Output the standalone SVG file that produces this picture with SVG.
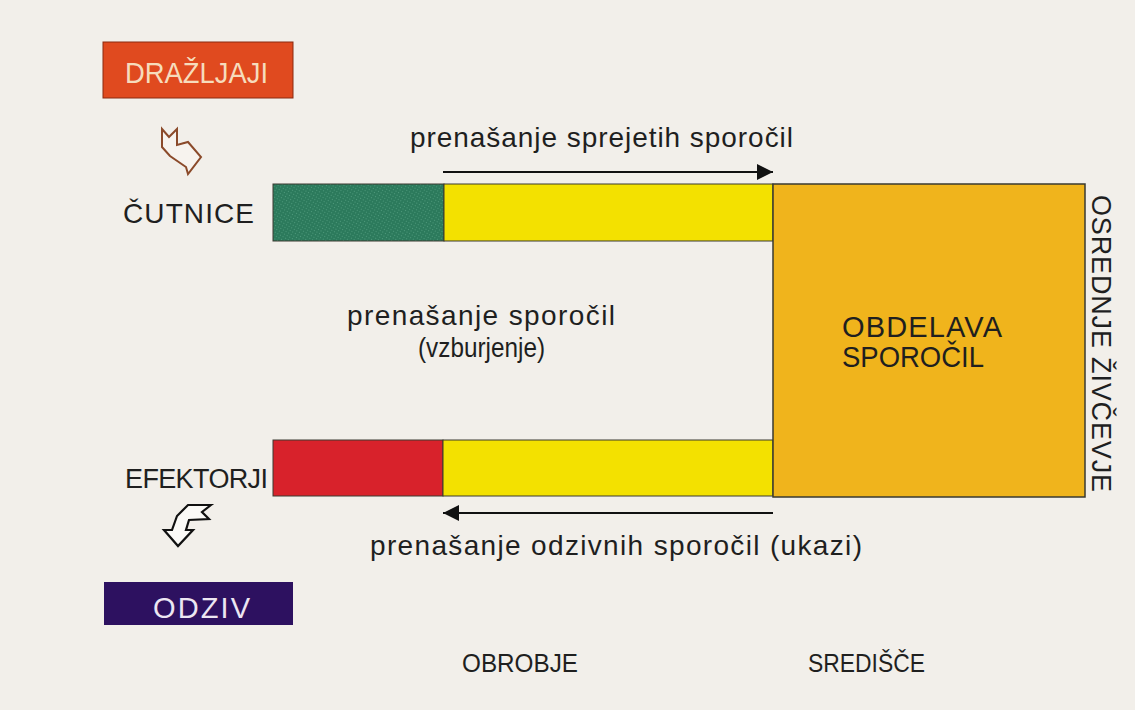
<svg xmlns="http://www.w3.org/2000/svg" width="1135" height="710" viewBox="0 0 1135 710">
<defs>
<style>
.t{font-family:"Liberation Sans",Arial,sans-serif;fill:#1f1f1f}
.cap{font-size:28px}
.bar{stroke:#3a3a30;stroke-width:1}
.conn{stroke:#111;stroke-width:2;fill:none}
</style>
<marker id="ah" viewBox="0 0 10 10" refX="10" refY="5" markerWidth="10" markerHeight="8" markerUnits="strokeWidth" orient="auto">
<path d="M0,0 L10,5 L0,10 Z" fill="#111"/>
</marker>
<pattern id="dots" width="3" height="3" patternUnits="userSpaceOnUse" patternTransform="rotate(30)">
<rect width="3" height="3" fill="#2c7a5c"/>
<rect width="1" height="1" fill="#4f9a7c"/>
</pattern>
</defs>
<rect width="1135" height="710" fill="#f2efea"/>

<g id="drazljaji">
<rect x="103" y="42" width="190" height="56" fill="#e04a1f" stroke="#8a2a10" stroke-width="1"/>
<text x="125" y="83" font-family="Liberation Sans,Arial,sans-serif" font-size="29" fill="#f6dcbc" textLength="143" lengthAdjust="spacingAndGlyphs">DRAŽLJAJI</text>
</g>

<g id="arrow-in">
<path d="M162,129 L169,137 L177,129 L177,145 L188,142 L201,157 L188,174 L186,167 L170,156 L162,147 Z" fill="#f7f3ee" stroke="#8b4a2a" stroke-width="2" stroke-linejoin="miter"/>
</g>

<g id="cutnice">
<text class="t" font-size="28" x="123" y="223" textLength="131">ČUTNICE</text>
<rect class="bar" x="273" y="184" width="171" height="57" fill="url(#dots)"/>
<rect class="bar" x="444" y="184" width="329" height="57" fill="#f3e100"/>
</g>

<g id="efektorji">
<text class="t" font-size="27" x="125" y="488" textLength="143">EFEKTORJI</text>
<rect class="bar" x="273" y="440" width="170" height="56" fill="#d8222b"/>
<rect class="bar" x="443" y="440" width="330" height="56" fill="#f3e100"/>
</g>

<g id="arrow-out">
<path d="M211,505 L202,512 L209,519 L189,520 L186,530 L193,530 L178,546 L164,530 L172,530 L177,516 L188,505 Z" fill="#fbfaf7" stroke="#111" stroke-width="2.2"/>
</g>

<g id="odziv">
<rect x="104" y="582" width="189" height="43" fill="#2d1160"/>
<text x="153" y="618" font-family="Liberation Sans,Arial,sans-serif" font-size="29" fill="#ece6f2" textLength="97">ODZIV</text>
</g>

<g id="obdelava">
<rect x="773" y="184" width="312" height="313" fill="#f0b41c" stroke="#3a3a30" stroke-width="1.5"/>
<text class="t" x="842" y="337" font-size="29" textLength="160">OBDELAVA</text>
<text class="t" x="842" y="367" font-size="29" textLength="142" lengthAdjust="spacingAndGlyphs">SPOROČIL</text>
</g>

<g id="osrednje">
<text class="t" font-size="27" transform="translate(1092,195) rotate(90)" textLength="297">OSREDNJE ŽIVČEVJE</text>
</g>

<g id="connectors">
<line class="conn" x1="443" y1="172" x2="773" y2="172" marker-end="url(#ah)"/>
<line class="conn" x1="773" y1="513" x2="443" y2="513" marker-end="url(#ah)"/>
</g>

<g id="labels">
<text class="t cap" x="410" y="147" textLength="383">prenašanje sprejetih sporočil</text>
<text class="t cap" x="347" y="325" textLength="268">prenašanje sporočil</text>
<text class="t" font-size="27" x="418" y="357" textLength="127" lengthAdjust="spacingAndGlyphs">(vzburjenje)</text>
<text class="t cap" x="370" y="555" textLength="492">prenašanje odzivnih sporočil (ukazi)</text>
<text class="t" font-size="26" x="462" y="672" textLength="116" lengthAdjust="spacingAndGlyphs">OBROBJE</text>
<text class="t" font-size="26" x="808" y="672" textLength="117" lengthAdjust="spacingAndGlyphs">SREDIŠČE</text>
</g>
</svg>
